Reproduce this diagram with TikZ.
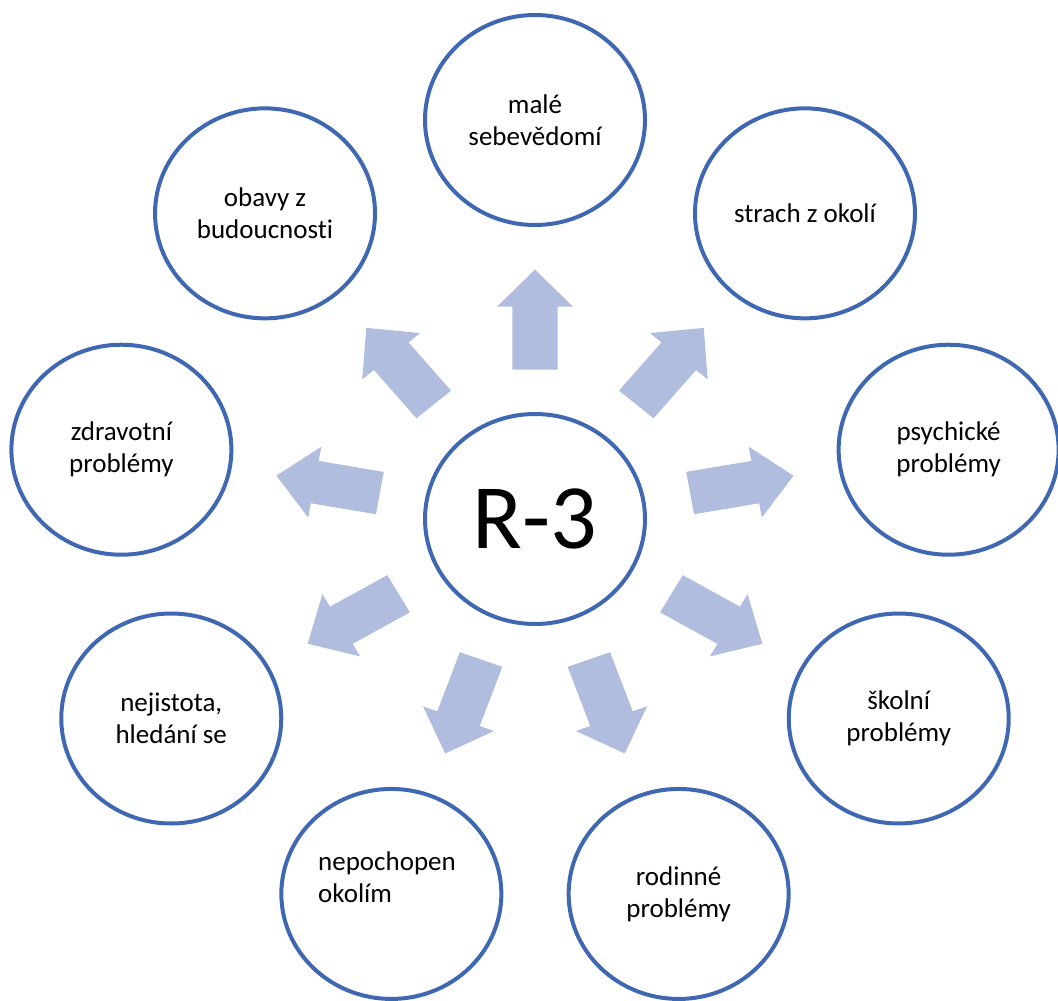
\documentclass[tikz,border=0pt]{standalone}
\usepackage{fontspec}
\setmainfont[Ligatures=CommonOff]{Carlito}
\usetikzlibrary{shapes.geometric,calc}
\definecolor{ringblue}{RGB}{64,104,178}
\definecolor{arrowblue}{RGB}{176,189,223}
\tikzset{
  ring/.style={draw=ringblue, line width=4pt, ellipse, minimum width=220pt,
    minimum height=210pt, inner sep=0pt, fill=white, align=center,
    font=\fontsize{27}{32}\selectfont},
  lbl/.style={inner sep=0pt, font=\fontsize{27}{32}\selectfont},
  blockarrow/.style={fill=arrowblue, draw=none},
}
\begin{document}
\begin{tikzpicture}[x=1pt,y=-1pt]
\useasboundingbox (0,0) rectangle (1058,1001);
\node[ring, font=\fontsize{92}{110}\selectfont] (hub) at (535,519) {R-3};
\foreach \a/\n/\t in {90/n1/{malé\\sebevědomí}, 50/n2/{strach z okolí},
  10/n3/{psychické\\problémy}, -30/n4/{školní\\problémy},
  -70/n5/{rodinné\\problémy}, -110/n6/{},
  -150/n7/{nejistota,\\hledání se}, 170/n8/{zdravotní\\problémy},
  130/n9/{obavy z\\budoucnosti}}
  \node[ring] (\n) at ({535+420*cos(\a)},{519-399*sin(\a)}) {\t};
\node[lbl, align=left, anchor=west] (t6) at (318,877) {nepochopen\\okolím};
\foreach \a/\n in {90/n1, 50/n2, 10/n3, -30/n4, -70/n5, -110/n6, -150/n7, 170/n8, 130/n9}{
  \begin{scope}[shift={($(hub)!0.5!(\n)$)}, xscale=1.05, rotate=\a]
    \fill[blockarrow] (-50,-21.5) -- (13,-21.5) -- (13,-36) -- (50,0)
      -- (13,36) -- (13,21.5) -- (-50,21.5) -- cycle;
  \end{scope}
}
\end{tikzpicture}
\end{document}
